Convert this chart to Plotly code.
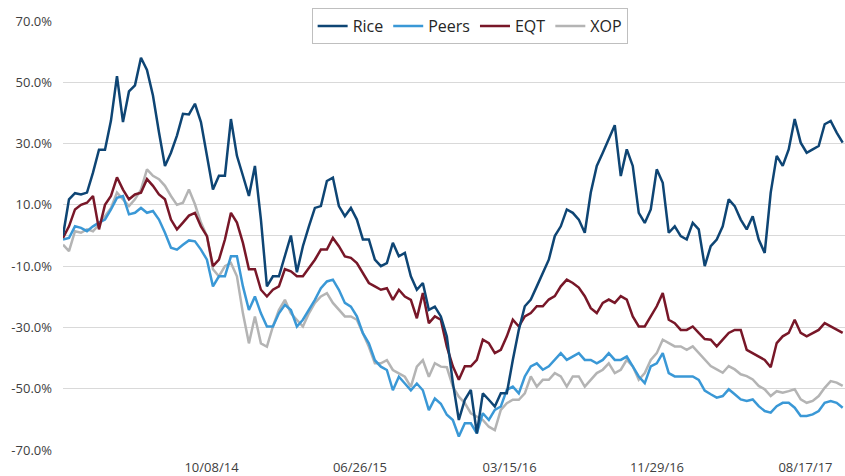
import pandas as pd
import plotly.graph_objects as go

# Sample dates (roughly every 10.5 calendar days from the start of the series)
dates = pd.date_range("2014-01-20", periods=131, freq="253h")

rice = [
    0, 11.8, 13.8, 13.4, 14, 20.5, 28, 28, 37.5, 52,
    37, 47, 49, 58, 54, 45.7, 33.7, 22.7, 27, 32.6,
    39.7, 39.5, 43, 37, 26, 15, 19.5, 19.5, 38, 26,
    19.5, 12.9, 22.7, 5.2, -16.6, -13.3, -13.3, -6.8, 0, -12,
    -3.5, 3, 9, 9.6, 17.8, 18.9, 9.6, 6.3, 9, 5.2,
    -1.3, -1.3, -7.9, -10, -9, -2.4, -6.8, -5.7, -13.3, -17.7,
    -15.5, -24.3, -23.2, -26.4, -33, -48, -60.2, -53.6, -50.4, -64.6,
    -51.5, -53.6, -55.8, -51.5, -51.5, -40.6, -30.8, -23.1, -20.9, -16.6,
    -12.2, -7.9, -0.2, 3, 8.5, 7.4, 5.2, 0.9, 14, 22.7,
    27, 31.4, 36, 19.4, 28.1, 22.7, 7.4, 4.1, 8.5, 21.6,
    17.2, 0.9, 3, -0.2, -1.3, 4.1, 2, -10, -3.5, -1.3,
    3, 11.8, 9.6, 5.2, 2, 6.3, -1.3, -5.7, 14, 26,
    22.7, 28.1, 38, 30.3, 27, 28.1, 29.2, 36.3, 37.4, 33.6,
    30.3,
]

peers = [
    -1.3, -0.8, 3, 2.5, 1.4, 3, 4.2, 5.2, 8.5, 12.3,
    12.9, 6.9, 7.4, 9, 7.4, 8, 5.2, 0.9, -4, -4.6,
    -3, -1.6, -1.9, -4.6, -7.9, -16.6, -13.3, -13.3, -6.8, -6.8,
    -16.6, -24.3, -19.9, -25.4, -29.7, -29.7, -25.4, -22.6, -24.3, -29.7,
    -27.5, -24.3, -21, -17.2, -15, -14.4, -17.7, -22, -23.2, -26.4,
    -31.9, -35.2, -40.7, -42.8, -43.9, -50.5, -46.1, -48.3, -50.5, -48.3,
    -50.5, -57, -53.2, -54.9, -58.5, -60.2, -65.6, -61.3, -61.3, -64.6,
    -58, -60.2, -56.9, -55.8, -50.4, -49.3, -51.5, -46, -42.7, -41.7,
    -43.8, -42.7, -40.6, -38.4, -40.6, -39.5, -38.4, -40.6, -40.6, -41.7,
    -40.6, -38.4, -40.6, -40.6, -39.5, -42.7, -46, -48.2, -42.7, -41.7,
    -38.4, -44.9, -46, -46, -46, -46, -47.1, -50.6, -51.8, -52.9,
    -52.4, -50.2, -51.8, -53.5, -54, -53.5, -55.7, -57.3, -57.8, -55.7,
    -54.6, -54.6, -56.2, -58.9, -58.9, -58.4, -57.3, -54.6, -54, -54.6,
    -56.2,
]

eqt = [
    -0.8, 3, 8.5, 10, 10.7, 12.9, 2, 10, 12.9, 19,
    15, 11.8, 13.4, 14, 18.4, 16.2, 13.4, 11.8, 5.2, 2,
    4.2, 6.5, 7.4, 3, -0.2, -10, -7.9, -1.3, 7.4, 4.2,
    -2.4, -11, -11, -17.7, -19.9, -17.7, -16.6, -11, -11.7, -13.3,
    -13.3, -10.6, -7.9, -4.6, -4.6, -0.8, -3.5, -6.8, -7.3, -9,
    -12.2, -15.5, -16.6, -17.7, -17.2, -21, -17.7, -19.9, -21, -27,
    -18.8, -28.6, -26.4, -27.5, -36.3, -42.7, -47.1, -42.7, -42.7, -40.6,
    -34, -35.1, -38.4, -37.3, -32.9, -27.5, -29.7, -26.4, -25.3, -23.1,
    -23.1, -20.9, -19.8, -16.6, -14.4, -15.5, -17, -19.8, -23.7, -25.3,
    -22, -20.9, -22, -19.8, -20.9, -26.4, -29.7, -29.7, -26.4, -23.1,
    -18.8, -27.5, -28.6, -30.8, -30.8, -29.7, -31.8, -33.8, -34, -36.2,
    -34, -31.8, -30.8, -30.8, -37.3, -38.4, -39.5, -40.6, -43, -35.1,
    -32.9, -31.8, -27.5, -31.8, -32.9, -31.8, -30.8, -28.6, -29.7, -30.8,
    -31.8,
]

xop = [
    -3, -5.1, 1.4, 0.9, 2, 1.4, 3.6, 6.3, 9, 14,
    11.8, 9.6, 11.8, 15, 21.6, 19.5, 18.4, 16.2, 12.9, 10,
    10.7, 15, 10.2, 4.2, -0.2, -11, -13.3, -10, -9, -13.3,
    -25.4, -35.2, -26.4, -35.2, -36.3, -29.7, -24.3, -21, -25.4, -27.5,
    -29.7, -25.4, -22, -19.9, -18.8, -22, -24.3, -26.4, -26.4, -27.5,
    -31.9, -36.3, -41.7, -41.7, -40.7, -43.9, -45, -46.1, -49.4, -42.8,
    -40.7, -46.1, -41.7, -42.8, -43, -49.3, -52.6, -54.7, -58, -59.1,
    -60.2, -62.4, -63.5, -56.9, -54.7, -53.6, -53.6, -51.5, -46, -49.3,
    -47.1, -47.1, -44.9, -46, -49.3, -46, -46, -49.3, -47.1, -44.9,
    -43.8, -41.7, -44.9, -43.8, -40.6, -42.7, -47.1, -44.9, -40.6, -38.4,
    -34, -35.1, -36.2, -36.2, -37.3, -36.2, -38.4, -40.6, -42.6, -43.7,
    -44.8, -42.6, -43.7, -45.3, -45.9, -47, -49.1, -50.2, -52.4, -50.8,
    -51.3, -50.8, -50.2, -53.5, -54.6, -54, -52.4, -49.7, -47.5, -48,
    -49.1,
]

tick_dates = ["2014-10-08", "2015-06-26", "2016-03-15", "2016-11-29", "2017-08-17"]
tick_labels = ["10/08/14", "06/26/15", "03/15/16", "11/29/16", "08/17/17"]
y_ticks = [-70, -50, -30, -10, 10, 30, 50, 70]

series = [
    ("XOP", xop, "#b4b4b4", 4),
    ("Peers", peers, "#3a98d6", 2),
    ("EQT", eqt, "#781728", 3),
    ("Rice", rice, "#0e4574", 1),
]

fig = go.Figure()
for name, vals, color, rank in series:
    fig.add_trace(go.Scatter(
        x=dates, y=vals, name=name, mode="lines",
        line=dict(color=color, width=2.5),
        legendrank=rank,
    ))

font_family = "Open Sans, Lato, sans-serif"
fig.update_layout(
    width=845, height=476,
    margin=dict(l=63, r=0, t=21, b=26, autoexpand=False),
    plot_bgcolor="white", paper_bgcolor="white",
    font=dict(family=font_family, size=13, color="#404040"),
    showlegend=True,
    legend=dict(
        orientation="h", x=0.52, xanchor="center", y=1.03, yanchor="top",
        bordercolor="#bfbfbf", borderwidth=1, bgcolor="white",
        font=dict(size=16, color="#262626", family=font_family),
        traceorder="normal",
    ),
    xaxis=dict(
        type="date",
        range=["2014-01-20", "2017-10-25 12:00"],
        tickvals=tick_dates, ticktext=tick_labels,
        showgrid=False, zeroline=False, showline=False,
        ticks="", ticklabelstandoff=8,
        tickfont=dict(size=13, color="#404040"),
    ),
    yaxis=dict(
        range=[-70, 70],
        tickvals=y_ticks,
        ticktext=[f"{v:.1f}%" for v in y_ticks],
        showgrid=True, gridcolor="#d9d9d9", gridwidth=1,
        zeroline=True, zerolinecolor="#d9d9d9", zerolinewidth=1,
        showline=False, ticks="", ticklabelstandoff=10,
        tickfont=dict(size=13, color="#404040"),
    ),
)

fig.write_html(
    "out.html",
    config={"displayModeBar": False},
    post_script="document.body.style.margin='0px';",
)
